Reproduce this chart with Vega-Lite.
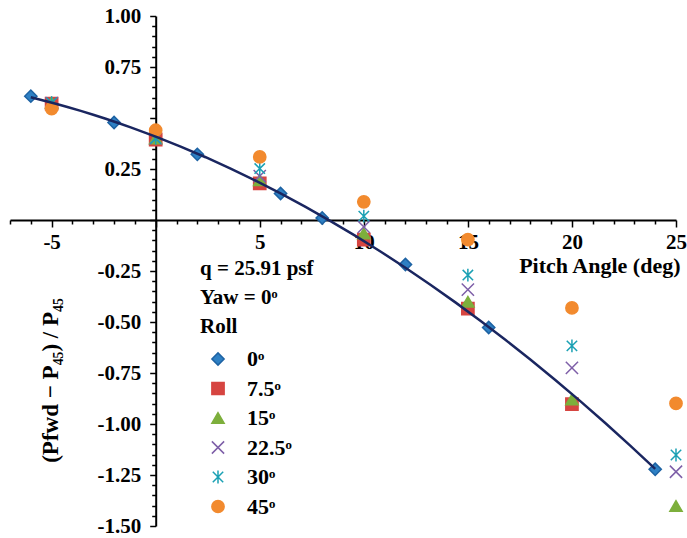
{
  "$schema": "https://vega.github.io/schema/vega-lite/v6.json",
  "width": 666,
  "height": 510,
  "autosize": {"type": "none"},
  "padding": {"left": 10, "top": 16, "right": 11, "bottom": 12},
  "config": {"view": {"stroke": null}, "font": "Liberation Serif, Times New Roman, DejaVu Serif, serif"},
  "data": {
    "values": [
      {"roll": "0ᵒ", "x": -6, "y": 0.607},
      {"roll": "0ᵒ", "x": -2, "y": 0.478},
      {"roll": "0ᵒ", "x": 2, "y": 0.322},
      {"roll": "0ᵒ", "x": 6, "y": 0.13},
      {"roll": "0ᵒ", "x": 8, "y": 0.01},
      {"roll": "0ᵒ", "x": 12, "y": -0.218},
      {"roll": "0ᵒ", "x": 16, "y": -0.527},
      {"roll": "0ᵒ", "x": 24, "y": -1.222},
      {"roll": "7.5ᵒ", "x": -5, "y": 0.571},
      {"roll": "7.5ᵒ", "x": 0, "y": 0.394},
      {"roll": "7.5ᵒ", "x": 5, "y": 0.179},
      {"roll": "7.5ᵒ", "x": 10, "y": -0.096},
      {"roll": "7.5ᵒ", "x": 15, "y": -0.434},
      {"roll": "7.5ᵒ", "x": 20, "y": -0.903},
      {"roll": "15ᵒ", "x": -5, "y": 0.575},
      {"roll": "15ᵒ", "x": 0, "y": 0.4},
      {"roll": "15ᵒ", "x": 5, "y": 0.195},
      {"roll": "15ᵒ", "x": 10, "y": -0.066},
      {"roll": "15ᵒ", "x": 15, "y": -0.401},
      {"roll": "15ᵒ", "x": 20, "y": -0.88},
      {"roll": "15ᵒ", "x": 25, "y": -1.402},
      {"roll": "22.5ᵒ", "x": -5, "y": 0.573},
      {"roll": "22.5ᵒ", "x": 0, "y": 0.4},
      {"roll": "22.5ᵒ", "x": 5, "y": 0.215},
      {"roll": "22.5ᵒ", "x": 10, "y": -0.034},
      {"roll": "22.5ᵒ", "x": 15, "y": -0.341},
      {"roll": "22.5ᵒ", "x": 20, "y": -0.725},
      {"roll": "22.5ᵒ", "x": 25, "y": -1.234},
      {"roll": "30ᵒ", "x": -5, "y": 0.575},
      {"roll": "30ᵒ", "x": 0, "y": 0.4},
      {"roll": "30ᵒ", "x": 5, "y": 0.252},
      {"roll": "30ᵒ", "x": 10, "y": 0.019},
      {"roll": "30ᵒ", "x": 15, "y": -0.27},
      {"roll": "30ᵒ", "x": 20, "y": -0.617},
      {"roll": "30ᵒ", "x": 25, "y": -1.152},
      {"roll": "45ᵒ", "x": -5, "y": 0.546},
      {"roll": "45ᵒ", "x": 0, "y": 0.44},
      {"roll": "45ᵒ", "x": 5, "y": 0.309},
      {"roll": "45ᵒ", "x": 10, "y": 0.089},
      {"roll": "45ᵒ", "x": 15, "y": -0.096},
      {"roll": "45ᵒ", "x": 20, "y": -0.431},
      {"roll": "45ᵒ", "x": 25, "y": -0.899}
    ]
  },
  "encoding": {
    "x": {
      "field": "x",
      "type": "quantitative",
      "scale": {"domain": [-7, 25], "nice": false, "zero": false},
      "axis": {
        "orient": "bottom",
        "offset": -306,
        "values": [-7,-6,-5,-4,-3,-2,-1,0,1,2,3,4,5,6,7,8,9,10,11,12,13,14,15,16,17,18,19,20,21,22,23,24,25],
        "labelExpr": "(abs(datum.value/5 - round(datum.value/5)) > 1e-6 || datum.value == 0) ? '' : replace(format(datum.value, 'd'), '−', '-')",
        "labelFont": "Liberation Serif, Times New Roman, DejaVu Serif, serif",
        "labelFontSize": 21,
        "labelFontWeight": "bold",
        "labelColor": "black",
        "labelOverlap": false,
        "labelFlush": false,
        "labelBound": false,
        "labelPadding": 4,
        "domainColor": "black",
        "domainWidth": 2,
        "tickColor": "black",
        "tickWidth": 1.5,
        "tickSize": {"condition": {"test": "abs(datum.value/5 - round(datum.value/5)) < 1e-6", "value": 7}, "value": 4},
        "grid": false,
        "title": "Pitch Angle (deg)",
        "titleFont": "Liberation Serif, Times New Roman, DejaVu Serif, serif",
        "titleFontSize": 22,
        "titleFontWeight": "bold",
        "titleColor": "black",
        "titleAnchor": "end",
        "titleAlign": "right",
        "titleBaseline": "alphabetic",
        "titleX": 670,
        "titleY": 52
      }
    },
    "y": {
      "field": "y",
      "type": "quantitative",
      "scale": {"domain": [-1.5, 1], "nice": false, "zero": false},
      "axis": {
        "orient": "left",
        "offset": -145.7,
        "values": [-1.5,-1.45,-1.4,-1.35,-1.3,-1.25,-1.2,-1.15,-1.1,-1.05,-1,-0.95,-0.9,-0.85,-0.8,-0.75,-0.7,-0.65,-0.6,-0.55,-0.5,-0.45,-0.4,-0.35,-0.3,-0.25,-0.2,-0.15,-0.1,-0.05,0,0.05,0.1,0.15,0.2,0.25,0.3,0.35,0.4,0.45,0.5,0.55,0.6,0.65,0.7,0.75,0.8,0.85,0.9,0.95,1],
        "labelExpr": "(abs(datum.value*4 - round(datum.value*4)) > 1e-6 || abs(datum.value) < 1e-6 || abs(datum.value - 0.5) < 1e-6) ? '' : replace(format(datum.value, '.2f'), '−', '-')",
        "labelFont": "Liberation Serif, Times New Roman, DejaVu Serif, serif",
        "labelFontSize": 21,
        "labelFontWeight": "bold",
        "labelColor": "black",
        "labelOverlap": false,
        "labelFlush": false,
        "labelBound": false,
        "labelPadding": 9,
        "domainColor": "black",
        "domainWidth": 2,
        "tickColor": "black",
        "tickWidth": 1.5,
        "tickSize": {"condition": {"test": "abs(datum.value*4 - round(datum.value*4)) < 1e-6", "value": 6}, "value": 4},
        "grid": false,
        "title": "(Pfwd − P₄₅) / P₄₅",
        "titleFont": "Liberation Serif, Times New Roman, DejaVu Serif, serif",
        "titleFontSize": 23,
        "titleFontWeight": "bold",
        "titleColor": "black",
        "titleAngle": -90,
        "titleAlign": "center",
        "titleBaseline": "middle",
        "titleX": -105,
        "titleY": 364
      }
    }
  },
  "layer": [
    {
      "mark": {"type": "point", "filled": false, "opacity": 1, "fillOpacity": 1, "strokeOpacity": 1, "strokeWidth": 1.5, "size": 150},
      "encoding": {
        "shape": {
          "field": "roll",
          "type": "nominal",
          "sort": ["0ᵒ", "7.5ᵒ", "15ᵒ", "22.5ᵒ", "30ᵒ", "45ᵒ"],
          "title": ["q = 25.91 psf", "Yaw = 0ᵒ", "Roll"],
          "scale": {
            "domain": ["0ᵒ", "7.5ᵒ", "15ᵒ", "22.5ᵒ", "30ᵒ", "45ᵒ"],
            "range": ["diamond", "square", "triangle-up", "M-1,-1L1,1M-1,1L1,-1", "M-0.85,-0.85L0.85,0.85M-0.85,0.85L0.85,-0.85M0,-1.05L0,1.05", "circle"]
          },
          "legend": {
            "orient": "none",
            "legendX": 190,
            "legendY": 242,
            "padding": 0,
            "titleFont": "Liberation Serif, Times New Roman, DejaVu Serif, serif",
            "titleFontSize": 21,
            "titleFontWeight": "bold",
            "titleColor": "black",
            "titleLineHeight": 29,
            "titlePadding": 11,
            "labelFont": "Liberation Serif, Times New Roman, DejaVu Serif, serif",
            "labelFontSize": 22,
            "labelFontWeight": "bold",
            "labelColor": "black",
            "symbolSize": 150,
            "symbolStrokeWidth": 1.5,
            "symbolOpacity": 1,
            "rowPadding": 7.5,
            "labelOffset": 18,
            "symbolOffset": 7
          }
        },
        "fill": {
          "field": "roll",
          "type": "nominal",
          "title": ["q = 25.91 psf", "Yaw = 0ᵒ", "Roll"],
          "scale": {
            "domain": ["0ᵒ", "7.5ᵒ", "15ᵒ", "22.5ᵒ", "30ᵒ", "45ᵒ"],
            "range": ["#2E80C4", "#D64541", "#7DAF3C", "transparent", "transparent", "#F28A2E"]
          }
        },
        "stroke": {
          "field": "roll",
          "type": "nominal",
          "title": ["q = 25.91 psf", "Yaw = 0ᵒ", "Roll"],
          "scale": {
            "domain": ["0ᵒ", "7.5ᵒ", "15ᵒ", "22.5ᵒ", "30ᵒ", "45ᵒ"],
            "range": ["#1D62A3", "#D64541", "#7DAF3C", "#7E5FA8", "#1BA1B4", "#F28A2E"]
          }
        }
      }
    },
    {
      "transform": [
        {"filter": "datum.roll === '0ᵒ'"},
        {"regression": "y", "on": "x", "method": "poly", "order": 2}
      ],
      "mark": {"type": "line", "color": "#1A2660", "strokeWidth": 2.5},
      "encoding": {}
    }
  ]
}
